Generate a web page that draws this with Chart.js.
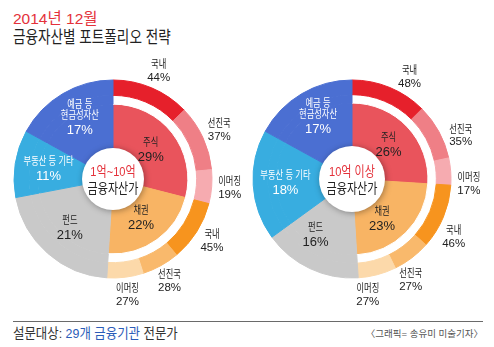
<!DOCTYPE html>
<html lang="ko">
<head>
<meta charset="utf-8">
<script src="https://cdn.jsdelivr.net/npm/chart.js@4.4.1/dist/chart.umd.min.js"></script>
<style>
html, body { margin: 0; padding: 0; background: #fff; }
body { width: 494px; height: 347px; position: relative; overflow: hidden;
  font-family: 'Liberation Sans', 'Noto Sans CJK KR', sans-serif; }
.cond { display: inline-block; transform-origin: 0 0; white-space: nowrap; }
#t1 { position: absolute; left: 13px; top: 10px; line-height: 18px; font-size: 15.5px; color: #e4313a; }
#t2 { position: absolute; left: 13px; top: 28px; line-height: 20px; font-size: 17px; color: #222; transform: scaleX(0.8); }
.wrap { position: absolute; top: 54px; height: 266px; }
#left { left: 0; width: 245px; }
#right { left: 245px; width: 249px; }
#rule { position: absolute; left: 13px; top: 321px; width: 470px; height: 1px; background: #6a6a6a; }
#src { position: absolute; left: 13px; top: 326px; line-height: 16px; font-size: 13.5px; color: #333; transform: scaleX(0.92); }
#src span { color: #2b5cb8; }
#credit { position: absolute; right: 11px; top: 327px; line-height: 14px; font-size: 9.5px; color: #555; }
</style>
</head>
<body>
<div id="t1">2014년 12월</div>
<div id="t2" class="cond">금융자산별 포트폴리오 전략</div>
<div class="wrap" id="left"><canvas id="cMid" width="245" height="266"></canvas></div>
<div class="wrap" id="right"><canvas id="cHigh" width="249" height="266"></canvas></div>
<div id="rule"></div>
<div id="src" class="cond">설문대상: <span>29개 금융기관</span> 전문가</div>
<div id="credit">〈그래픽= 송유미 미술기자〉</div>
<script>
// Asset classes and the regional split of stocks and bonds
const categories = ['주식', '채권', '펀드', '부동산 등 기타', '예금 등 현금성자산'];
const categoryLines = [['주식'], ['채권'], ['펀드'], ['부동산 등 기타'], ['예금 등', '현금성자산']];
const regions = ['국내', '선진국', '이머징'];

// 1억~10억 금융자산가 (%)
const midShares = [29, 22, 21, 11, 17];
const midStockSplit = [44, 37, 19];
const midBondSplit = [45, 28, 27];

// 10억 이상 금융자산가 (%)
const highShares = [26, 23, 16, 18, 17];
const highStockSplit = [48, 35, 17];
const highBondSplit = [46, 27, 27];

const baseColors = ['#e9545c', '#f8b464', '#c9c9c9', '#38ade0', '#4b6fd2'];
const stockColors = ['#e6202b', '#ef7f86', '#f6abb0'];
const bondColors = ['#f7941e', '#f9b96c', '#fcd9aa'];
const labelDark = '#222';

const FONT = '"Liberation Sans", "Noto Sans CJK KR", sans-serif';
const DEG = Math.PI / 180;

// centred text, optionally squeezed horizontally for the narrow Korean face
function text(ctx, str, x, y, size, color, sx = 1) {
  ctx.save();
  ctx.translate(x, y);
  ctx.scale(sx, 1);
  ctx.font = size + 'px ' + FONT;
  ctx.fillStyle = color;
  ctx.textAlign = 'center';
  ctx.textBaseline = 'middle';
  ctx.fillText(str, 0, 0);
  ctx.restore();
}

// Draws the ring labels, the slice labels and the white centre badge
const portfolioLabels = {
  id: 'portfolioLabels',
  afterDatasetsDraw(chart) {
    const info = chart.options.plugins.portfolioLabels;
    const ctx = chart.ctx;
    const outer = chart.getDatasetMeta(0).data;
    const inner = chart.getDatasetMeta(2).data;

    // regional split around the outer ring
    const splits = [...info.stockSplit, ...info.bondSplit];
    for (let i = 0; i < 6; i++) {
      const a = outer[i];
      const mid = (a.startAngle + a.endAngle) / 2 + info.outerTurn * DEG;
      const r = a.outerRadius + 18;
      const x = a.x + Math.cos(mid) * r;
      const y = a.y + Math.sin(mid) * r;
      text(ctx, regions[i % 3], x, y - 6, 11, labelDark, 0.75);
      text(ctx, splits[i] + '%', x, y + 6.5, 11.5, labelDark);
    }

    // asset-class slices
    const full = outer[0].outerRadius;
    for (let i = 0; i < inner.length; i++) {
      const a = inner[i];
      const mid = (a.startAngle + a.endAngle) / 2 + info.innerTurn[i] * DEG;
      const r = i < 2 ? a.innerRadius + (a.outerRadius - a.innerRadius) * 0.45
                      : a.innerRadius + (full - a.innerRadius) * 0.54;
      const x = a.x + Math.cos(mid) * r;
      const y = a.y + Math.sin(mid) * r;
      const color = i >= 3 ? '#fff' : labelDark;
      const lines = categoryLines[i];
      const top = y - 7 - (lines.length - 1) * 11;
      lines.forEach((ln, k) => text(ctx, ln, x, top + k * 11, 11, color, 0.75));
      text(ctx, info.shares[i] + '%', x, y + 7.5, 13, color);
    }

    // centre badge
    const cx = outer[0].x, cy = outer[0].y;
    ctx.save();
    ctx.beginPath();
    ctx.arc(cx, cy, info.badgeRadius, 0, Math.PI * 2);
    ctx.shadowColor = 'rgba(0,0,0,0.35)';
    ctx.shadowBlur = 6;
    ctx.shadowOffsetX = 1;
    ctx.shadowOffsetY = 1;
    ctx.fillStyle = '#fff';
    ctx.fill();
    ctx.restore();
    text(ctx, info.centerTop, cx, cy - 7, 13.5, '#e4313a', 0.82);
    text(ctx, info.centerBottom, cx, cy + 10, 13.5, labelDark, 0.82);
  }
};

function buildChart(canvasId, shares, stockSplit, bondSplit, centerTop, badgeRadius, padRight, outerTurn, innerTurn) {
  const outerData = [
    ...stockSplit.map(v => shares[0] * v / 100),
    ...bondSplit.map(v => shares[1] * v / 100),
    shares[2], shares[3], shares[4]
  ];
  const outerColors = [...stockColors, ...bondColors, baseColors[2], baseColors[3], baseColors[4]];
  const gapColors = ['#fff', '#fff', baseColors[2], baseColors[3], baseColors[4]];

  return new Chart(document.getElementById(canvasId), {
    type: 'doughnut',
    data: {
      datasets: [
        { data: outerData, backgroundColor: outerColors, borderColor: outerColors, borderWidth: 1, weight: 14 },
        { data: shares, backgroundColor: gapColors, borderColor: gapColors, borderWidth: 1, weight: 8 },
        { data: shares, backgroundColor: baseColors, borderColor: baseColors, borderWidth: 1, weight: 45 }
      ]
    },
    options: {
      responsive: false,
      animation: false,
      radius: 99,
      cutout: badgeRadius - 2,
      layout: { padding: { left: 0, right: padRight, top: 0, bottom: 16 } },
      events: [],
      plugins: {
        legend: { display: false },
        tooltip: { enabled: false },
        portfolioLabels: {
          shares, stockSplit, bondSplit, centerTop,
          centerBottom: '금융자산가', badgeRadius, outerTurn, innerTurn
        }
      }
    },
    plugins: [portfolioLabels]
  });
}

buildChart('cMid', midShares, midStockSplit, midBondSplit, '1억~10억', 31, 19, 0, [0, 0, 0, 0, 0]);
buildChart('cHigh', highShares, highStockSplit, highBondSplit, '10억 이상', 33, 35, 7, [0, 8, 8, 0, 0]);
</script>
</body>
</html>
